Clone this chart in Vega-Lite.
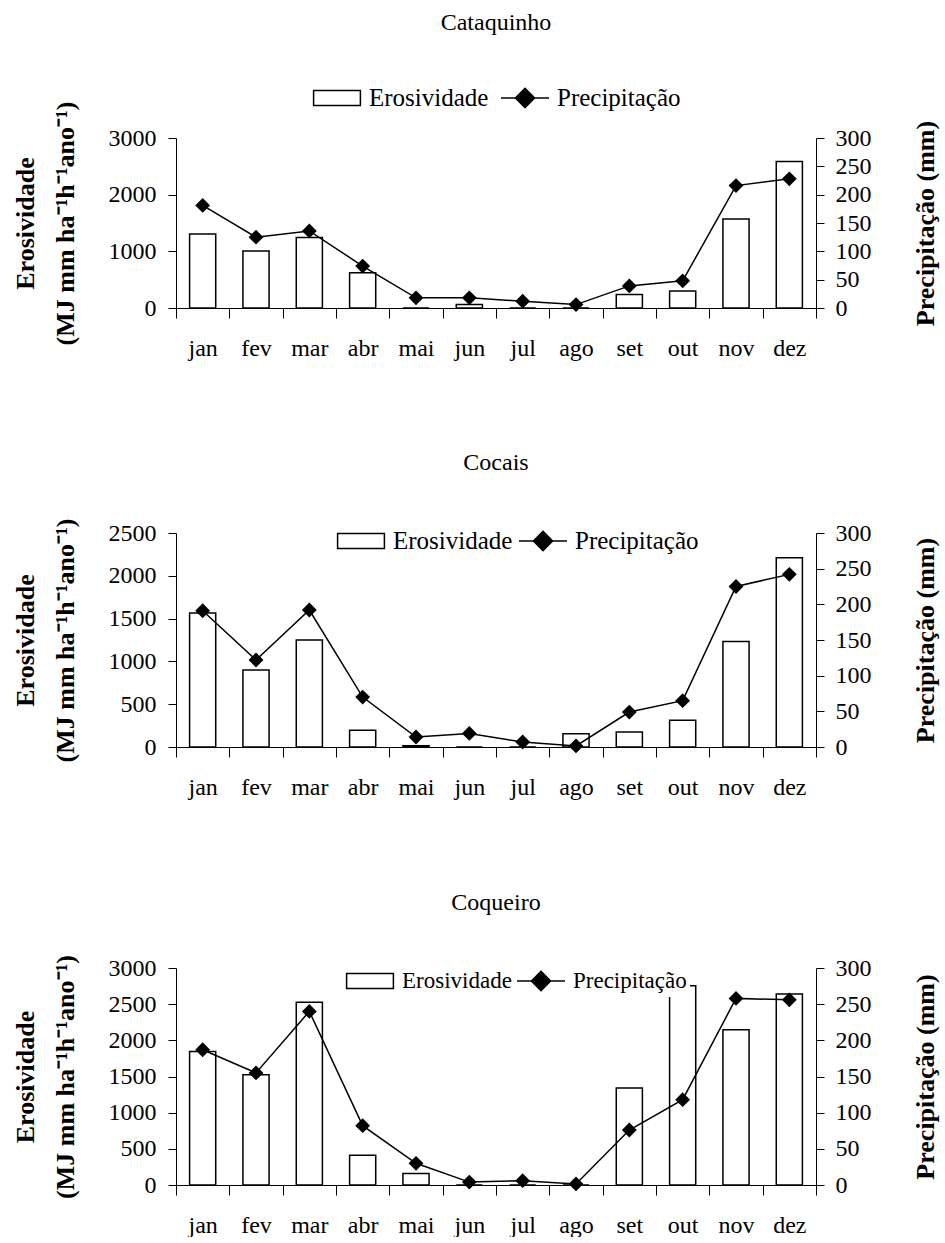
{
  "$schema": "https://vega.github.io/schema/vega-lite/v6.json",
  "padding": {"left": 12, "top": 11, "right": 2, "bottom": 0},
  "spacing": 91,
  "config": {
    "view": {"stroke": null},
    "font": "Liberation Serif",
    "axis": {"grid": false, "labelOverlap": false, "domainColor": "black", "tickColor": "black", "labelColor": "black", "titleColor": "black", "labelFont": "Liberation Serif", "labelFontSize": 24, "titleFont": "Liberation Serif", "titleFontSize": 26, "titleFontWeight": "bold"},
    "legend": {"labelFont": "Liberation Serif", "labelFontSize": 25, "labelColor": "black"},
    "title": {"font": "Liberation Serif", "fontSize": 24, "fontWeight": "normal", "color": "black", "frame": "group", "anchor": "middle"}
  },
  "resolve": {"scale": {"fill": "independent", "stroke": "independent"}, "legend": {"fill": "independent", "stroke": "independent"}},
  "vconcat": [
    {
      "title": {"text": "Cataquinho", "offset": 50},
      "width": 640,
      "height": 170,
      "data": {"values": [
        {"mes": "jan", "ero": 1306, "prec": 181},
        {"mes": "fev", "ero": 1006, "prec": 125},
        {"mes": "mar", "ero": 1245, "prec": 136},
        {"mes": "abr", "ero": 622, "prec": 74},
        {"mes": "mai", "ero": 0, "prec": 18},
        {"mes": "jun", "ero": 62, "prec": 18},
        {"mes": "jul", "ero": 0, "prec": 12},
        {"mes": "ago", "ero": 0, "prec": 6},
        {"mes": "set", "ero": 238, "prec": 39},
        {"mes": "out", "ero": 298, "prec": 48},
        {"mes": "nov", "ero": 1572, "prec": 216},
        {"mes": "dez", "ero": 2587, "prec": 228}
      ]},
      "layer": [
        {
          "mark": {"type": "bar", "stroke": "black", "strokeWidth": 1.5, "width": {"band": 0.49}},
          "encoding": {
            "x": {"field": "mes", "type": "ordinal", "sort": ["jan","fev","mar","abr","mai","jun","jul","ago","set","out","nov","dez"], "scale": {"paddingInner": 0, "paddingOuter": 0}, "axis": {"title": null, "labelAngle": 0, "tickBand": "extent", "tickSize": 10, "labelPadding": 18}},
            "y": {"field": "ero", "type": "quantitative", "scale": {"domain": [0, 3000]}, "axis": {"values": [0, 1000, 2000, 3000], "format": "d", "labelOverlap": false, "title": ["Erosividade", "(MJ mm ha⁻¹h⁻¹ano⁻¹)"], "titlePadding": 30, "titleLineHeight": 40, "tickSize": 8, "labelPadding": 12}},
            "fill": {"datum": "Erosividade", "type": "nominal", "scale": {"domain": ["Erosividade"], "range": ["white"]},
              "legend": {"orient": "none", "legendX": 148, "legendY": -53, "title": null, "symbolType": "M-1.95,-0.62H1.95V0.62H-1.95Z", "symbolSize": 576, "symbolStrokeColor": "black", "symbolStrokeWidth": 1.5, "labelOffset": 19}}
          }
        },
        {
          "encoding": {
            "x": {"field": "mes", "type": "ordinal", "sort": ["jan","fev","mar","abr","mai","jun","jul","ago","set","out","nov","dez"]},
            "y": {"field": "prec", "type": "quantitative", "scale": {"domain": [0, 300]}, "axis": {"orient": "right", "values": [0, 50, 100, 150, 200, 250, 300], "format": "d", "labelOverlap": false, "title": "Precipitação (mm)", "titleAngle": 270, "titlePadding": 67, "tickSize": 8, "labelPadding": 11}}
          },
          "layer": [
            {
              "mark": {"type": "line", "strokeWidth": 1.5},
              "encoding": {
                "stroke": {"datum": "Precipitação", "type": "nominal", "scale": {"domain": ["Precipitação"], "range": ["black"]},
                  "legend": {"orient": "none", "legendX": 336, "legendY": -53, "title": null, "symbolType": "M-2,0H2M0,-0.8L0.8,0L0,0.8L-0.8,0Z", "symbolSize": 576, "symbolStrokeColor": "black", "symbolFillColor": "black", "symbolStrokeWidth": 1.5, "labelOffset": 19}}
              }
            },
            {
              "mark": {"type": "point", "shape": "diamond", "filled": true, "fill": "black", "size": 220, "opacity": 1},
              "encoding": {}
            }
          ]
        }
      ],
      "resolve": {"scale": {"y": "independent"}}
    },
    {
      "title": {"text": "Cocais", "offset": 43},
      "width": 640,
      "height": 214,
      "data": {"values": [
        {"mes": "jan", "ero": 1565, "prec": 191},
        {"mes": "fev", "ero": 900, "prec": 122},
        {"mes": "mar", "ero": 1250, "prec": 192},
        {"mes": "abr", "ero": 195, "prec": 70},
        {"mes": "mai", "ero": 15, "prec": 14},
        {"mes": "jun", "ero": 0, "prec": 19},
        {"mes": "jul", "ero": 0, "prec": 7},
        {"mes": "ago", "ero": 156, "prec": 1.5},
        {"mes": "set", "ero": 175, "prec": 49},
        {"mes": "out", "ero": 312, "prec": 65},
        {"mes": "nov", "ero": 1232, "prec": 225},
        {"mes": "dez", "ero": 2210, "prec": 242}
      ]},
      "layer": [
        {
          "mark": {"type": "bar", "stroke": "black", "strokeWidth": 1.5, "width": {"band": 0.49}},
          "encoding": {
            "x": {"field": "mes", "type": "ordinal", "sort": ["jan","fev","mar","abr","mai","jun","jul","ago","set","out","nov","dez"], "scale": {"paddingInner": 0, "paddingOuter": 0}, "axis": {"title": null, "labelAngle": 0, "tickBand": "extent", "tickSize": 10, "labelPadding": 18}},
            "y": {"field": "ero", "type": "quantitative", "scale": {"domain": [0, 2500]}, "axis": {"values": [0, 500, 1000, 1500, 2000, 2500], "format": "d", "labelOverlap": false, "title": ["Erosividade", "(MJ mm ha⁻¹h⁻¹ano⁻¹)"], "titlePadding": 30, "titleLineHeight": 40, "tickSize": 8, "labelPadding": 12}},
            "fill": {"datum": "Erosividade", "type": "nominal", "scale": {"domain": ["Erosividade"], "range": ["white"]},
              "legend": {"orient": "none", "legendX": 172, "legendY": -5, "title": null, "symbolType": "M-1.95,-0.62H1.95V0.62H-1.95Z", "symbolSize": 576, "symbolStrokeColor": "black", "symbolStrokeWidth": 1.5, "labelOffset": 19}}
          }
        },
        {
          "encoding": {
            "x": {"field": "mes", "type": "ordinal", "sort": ["jan","fev","mar","abr","mai","jun","jul","ago","set","out","nov","dez"]},
            "y": {"field": "prec", "type": "quantitative", "scale": {"domain": [0, 300]}, "axis": {"orient": "right", "values": [0, 50, 100, 150, 200, 250, 300], "format": "d", "labelOverlap": false, "title": "Precipitação (mm)", "titleAngle": 270, "titlePadding": 67, "tickSize": 8, "labelPadding": 11}}
          },
          "layer": [
            {
              "mark": {"type": "line", "strokeWidth": 1.5},
              "encoding": {
                "stroke": {"datum": "Precipitação", "type": "nominal", "scale": {"domain": ["Precipitação"], "range": ["black"]},
                  "legend": {"orient": "none", "legendX": 354, "legendY": -5, "title": null, "symbolType": "M-2,0H2M0,-0.8L0.8,0L0,0.8L-0.8,0Z", "symbolSize": 576, "symbolStrokeColor": "black", "symbolFillColor": "black", "symbolStrokeWidth": 1.5, "labelOffset": 19}}
              }
            },
            {
              "mark": {"type": "point", "shape": "diamond", "filled": true, "fill": "black", "size": 220, "opacity": 1},
              "encoding": {}
            }
          ]
        }
      ],
      "resolve": {"scale": {"y": "independent"}}
    },
    {
      "title": {"text": "Coqueiro", "offset": 40},
      "width": 640,
      "height": 217,
      "data": {"values": [
        {"mes": "jan", "ero": 1847, "prec": 187},
        {"mes": "fev", "ero": 1524, "prec": 155},
        {"mes": "mar", "ero": 2525, "prec": 240},
        {"mes": "abr", "ero": 410, "prec": 82},
        {"mes": "mai", "ero": 160, "prec": 30},
        {"mes": "jun", "ero": 0, "prec": 4},
        {"mes": "jul", "ero": 0, "prec": 6},
        {"mes": "ago", "ero": 0, "prec": 1.5},
        {"mes": "set", "ero": 1340, "prec": 76},
        {"mes": "out", "ero": 2755, "prec": 118},
        {"mes": "nov", "ero": 2146, "prec": 258},
        {"mes": "dez", "ero": 2640, "prec": 256}
      ]},
      "layer": [
        {
          "mark": {"type": "bar", "stroke": "black", "strokeWidth": 1.5, "width": {"band": 0.49}},
          "encoding": {
            "x": {"field": "mes", "type": "ordinal", "sort": ["jan","fev","mar","abr","mai","jun","jul","ago","set","out","nov","dez"], "scale": {"paddingInner": 0, "paddingOuter": 0}, "axis": {"title": null, "labelAngle": 0, "tickBand": "extent", "tickSize": 10, "labelPadding": 18}},
            "y": {"field": "ero", "type": "quantitative", "scale": {"domain": [0, 3000]}, "axis": {"values": [0, 500, 1000, 1500, 2000, 2500, 3000], "format": "d", "labelOverlap": false, "title": ["Erosividade", "(MJ mm ha⁻¹h⁻¹ano⁻¹)"], "titlePadding": 30, "titleLineHeight": 40, "tickSize": 8, "labelPadding": 12}},
            "fill": {"datum": "Erosividade", "type": "nominal", "scale": {"domain": ["Erosividade"], "range": ["white"]},
              "legend": {"orient": "none", "legendX": 181, "legendY": 0, "title": null, "symbolType": "M-1.95,-0.62H1.95V0.62H-1.95Z", "symbolSize": 576, "symbolStrokeColor": "black", "symbolStrokeWidth": 1.5, "labelOffset": 19, "labelFontSize": 23}}
          }
        },
        {
          "encoding": {
            "x": {"field": "mes", "type": "ordinal", "sort": ["jan","fev","mar","abr","mai","jun","jul","ago","set","out","nov","dez"]},
            "y": {"field": "prec", "type": "quantitative", "scale": {"domain": [0, 300]}, "axis": {"orient": "right", "values": [0, 50, 100, 150, 200, 250, 300], "format": "d", "labelOverlap": false, "title": "Precipitação (mm)", "titleAngle": 270, "titlePadding": 67, "tickSize": 8, "labelPadding": 11}}
          },
          "layer": [
            {
              "mark": {"type": "line", "strokeWidth": 1.5},
              "encoding": {
                "stroke": {"datum": "Precipitação", "type": "nominal", "scale": {"domain": ["Precipitação"], "range": ["black"]},
                  "legend": {"orient": "none", "legendX": 349, "legendY": -3, "padding": 3, "fillColor": "white", "title": null, "symbolType": "M-2,0H2M0,-0.8L0.8,0L0,0.8L-0.8,0Z", "symbolSize": 576, "symbolStrokeColor": "black", "symbolFillColor": "black", "symbolStrokeWidth": 1.5, "labelOffset": 19, "labelFontSize": 23}}
              }
            },
            {
              "mark": {"type": "point", "shape": "diamond", "filled": true, "fill": "black", "size": 220, "opacity": 1},
              "encoding": {}
            }
          ]
        }
      ],
      "resolve": {"scale": {"y": "independent"}}
    }
  ]
}
